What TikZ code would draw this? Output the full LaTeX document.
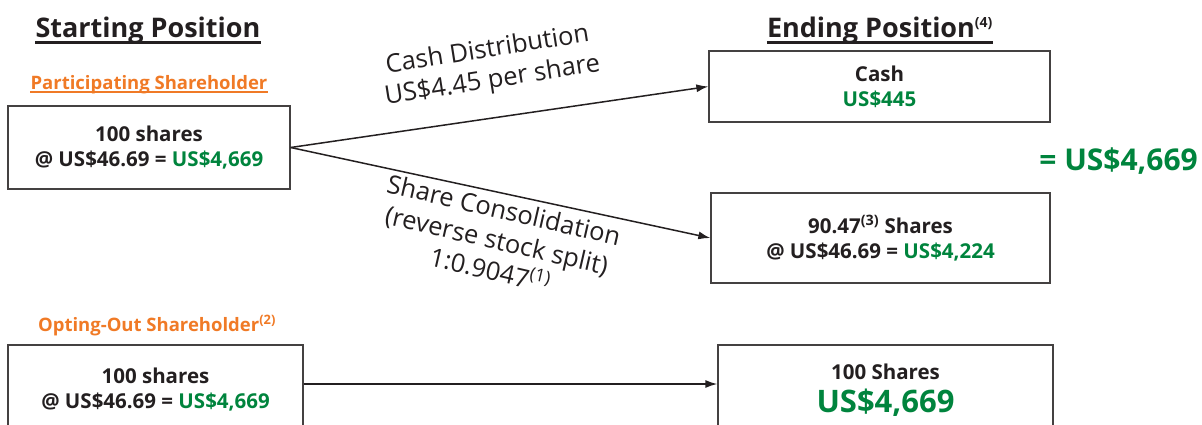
\documentclass[tikz,border=0pt]{standalone}
\usepackage{fontspec}
\setmainfont{Open Sans}
\usetikzlibrary{positioning,arrows.meta}
\definecolor{darktext}{HTML}{231F20}
\definecolor{valgreen}{HTML}{00843D}
\definecolor{holdorange}{HTML}{F07A26}
\tikzset{
  posbox/.style={draw=darktext!85,line width=1.3pt,align=center,text=darktext,
    font=\bfseries\fontsize{20.5}{25}\selectfont},
  heading/.style={font=\bfseries\fontsize{27}{32}\selectfont,text=darktext,inner sep=0pt},
  holder/.style={font=\bfseries\fontsize{18.5}{20}\selectfont,text=holdorange,inner sep=0pt},
  steplabel/.style={font=\fontsize{25.5}{31}\selectfont,text=darktext,align=center},
  flow/.style={-{Latex[length=12pt,width=8pt]},line width=1.5pt,draw=darktext}
}
\newcommand{\val}[1]{\textcolor{valgreen}{#1}}

\begin{document}
\begin{tikzpicture}[x=1pt,y=-1pt]
	\useasboundingbox (0,0) rectangle (1202,424);
	\clip (0,0) rectangle (1202,424);

	% headings
	\node [heading,anchor=base] (start) at (148,37) {Starting Position};
	\draw [line width=3pt,darktext] ([yshift=-5pt]start.base west) -- ([yshift=-5pt]start.base east);
	\node [heading,anchor=base] (ending) at (880,37) {Ending Position\textsuperscript{\fontsize{14}{14}\selectfont(4)}};
	\draw [line width=3pt,darktext] ([yshift=-5pt]ending.base west) -- ([yshift=-5pt]ending.base east);

	% participating shareholder
	\node [holder,anchor=base] (part) at (149,89) {Participating Shareholder};
	\draw [line width=2pt,holdorange] ([yshift=-3pt]part.base west) -- ([yshift=-3pt]part.base east);
	\node [posbox,minimum width=282pt,minimum height=83pt] (partstart) at (149,147.5)
		{100 shares\\@ US\$46.69 = \val{US\$4,669}};
	\node [posbox,minimum width=341pt,minimum height=71pt] (cash) at (879.5,86.5)
		{Cash\\\val{US\$445}};
	\node [posbox,minimum width=339pt,minimum height=90pt] (consol) at (880.5,238)
		{90.47\textsuperscript{(3)} Shares\\@ US\$46.69 = \val{US\$4,224}};
	\draw [flow] (partstart.east) -- (cash.west);
	\draw [flow] (partstart.east) -- (consol.west);
	\node [steplabel,rotate=9] (distlbl) at (490,66)
		{Cash Distribution\\US\$4.45 per share};
	\node [steplabel,rotate=-13] (consollbl) at (497,240)
		{Share Consolidation\\(reverse stock split)\\1:0.9047\textsuperscript{(1)}};
	\node [font=\bfseries\fontsize{30}{32}\selectfont,text=valgreen,anchor=base east,inner sep=0pt]
		(total) at (1198,170) {= US\$4,669};

	% opting-out shareholder
	\node [holder,anchor=base] (optout) at (157,331) {Opting-Out Shareholder\textsuperscript{(2)}};
	\node [posbox,minimum width=295pt,minimum height=90pt] (optstart) at (155.5,390)
		{100 shares\\@ US\$46.69 = \val{US\$4,669}};
	\node [posbox,minimum width=335pt,minimum height=90pt] (optend) at (885.5,390)
		{100 Shares\\[8pt]{\fontsize{31}{32}\selectfont\val{US\$4,669}}};
	\draw [flow] ([yshift=6pt]optstart.east) -- ([yshift=6pt]optend.west);
\end{tikzpicture}
\end{document}
